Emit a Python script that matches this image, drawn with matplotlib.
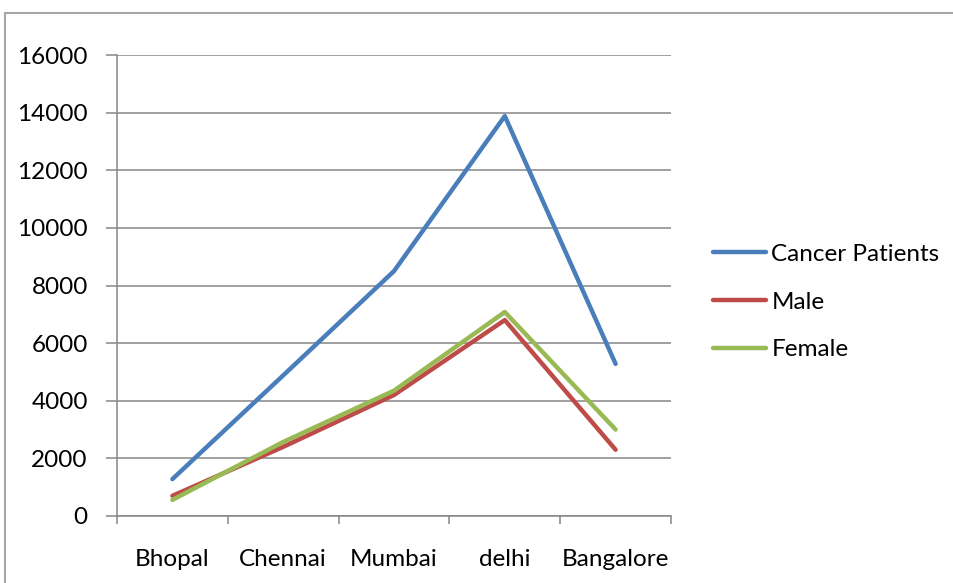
import matplotlib
matplotlib.use('Agg')
import matplotlib.pyplot as plt
from matplotlib.patches import Rectangle

plt.rcParams['font.family'] = ['Lato', 'DejaVu Sans']

cities = ['Bhopal', 'Chennai', 'Mumbai', 'delhi', 'Bangalore']
cancer_patients = [1280, 4880, 8500, 13880, 5280]
male = [700, 2400, 4200, 6800, 2300]
female = [560, 2570, 4350, 7080, 3000]
y_ticks = [0, 2000, 4000, 6000, 8000, 10000, 12000, 14000, 16000]

grid_col = '#868686'

fig = plt.figure(figsize=(9.54, 5.83), dpi=100)
fig.patch.set_facecolor('white')

# outer chart border (only left and top edges are visible in the crop)
fig.patches.append(Rectangle((5 / 954, -0.1), 1.2, (583 - 13) / 583 + 0.1,
                             transform=fig.transFigure, fill=False,
                             edgecolor='#a6a6a6', lw=1.5))

ax = fig.add_axes([117 / 954, 67 / 583, (671 - 117) / 954, (516 - 55) / 583])

x = range(len(cities))
ax.plot(x, cancer_patients, color='#4a7ebb', lw=3.2, label='Cancer Patients',
        solid_capstyle='round', solid_joinstyle='round')
ax.plot(x, male, color='#be4b48', lw=3.2, label='Male',
        solid_capstyle='round', solid_joinstyle='round')
ax.plot(x, female, color='#98b954', lw=3.2, label='Female',
        solid_capstyle='round', solid_joinstyle='round')

ax.set_xlim(-0.5, len(cities) - 0.5)
ax.set_ylim(0, 16000)
ax.set_yticks(y_ticks)
ax.set_yticklabels([str(v) for v in y_ticks])
ax.yaxis.grid(True, color=grid_col, lw=1.1)
ax.set_axisbelow(True)

# category labels at centres, tick marks at boundaries
ax.set_xticks([i - 0.5 for i in range(len(cities) + 1)])
ax.set_xticklabels([])
ax.set_xticks(list(x), minor=True)
ax.set_xticklabels(cities, minor=True)
ax.tick_params(axis='x', which='major', length=6, width=1.1, color=grid_col)
ax.tick_params(axis='x', which='minor', length=0, pad=24, labelsize=17.5,
               labelcolor='black')
ax.tick_params(axis='y', length=8, width=1.1, color=grid_col, pad=13,
               labelsize=17.5, labelcolor='black')

for s in ['top', 'right']:
    ax.spines[s].set_visible(False)
for s in ['left', 'bottom']:
    ax.spines[s].set_color(grid_col)
    ax.spines[s].set_linewidth(1.1)

ax.legend(loc='center left', bbox_to_anchor=(713 / 954, (583 - 302) / 583),
          bbox_transform=fig.transFigure, frameon=False, fontsize=17.5,
          handlelength=2.2, handletextpad=0.2, labelspacing=1.1,
          borderpad=0, borderaxespad=0)

fig.savefig('out.png', dpi=100)
